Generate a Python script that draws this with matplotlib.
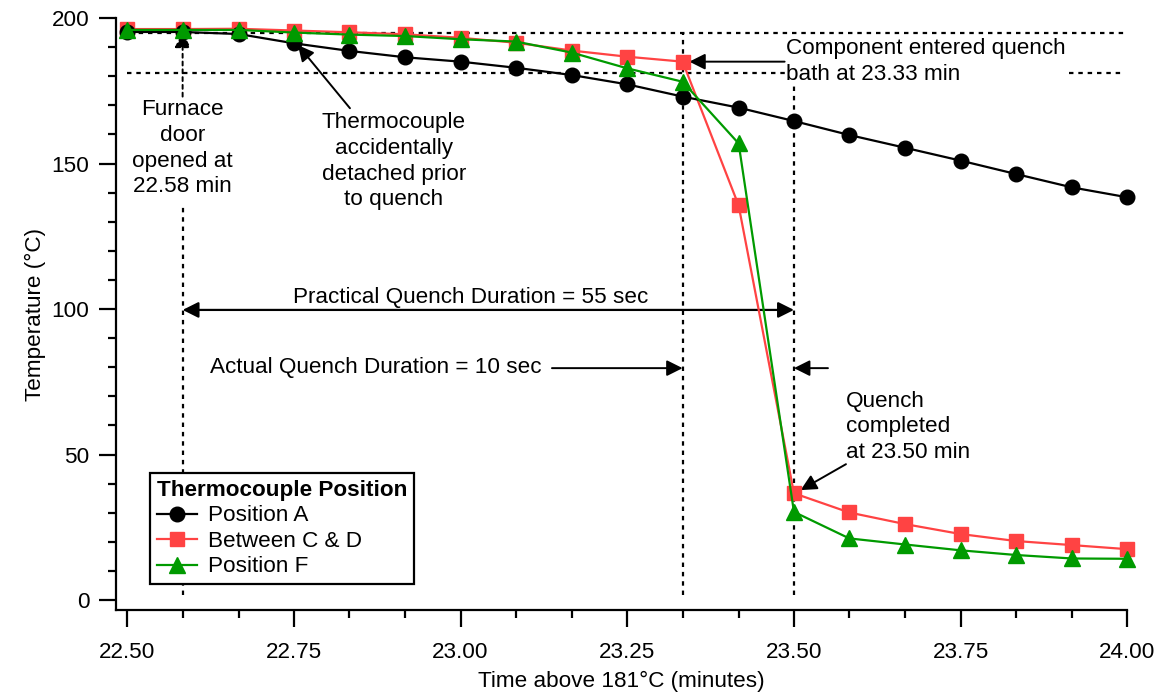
import matplotlib
matplotlib.use("Agg")
import matplotlib.pyplot as plt
from matplotlib.ticker import MultipleLocator, FixedLocator

plt.rcParams['font.family'] = ['Liberation Sans', 'DejaVu Sans']

# Sample times (minutes), one reading every 5 seconds
time_min = [22.500, 22.583, 22.667, 22.750, 22.833, 22.917, 23.000, 23.083,
            23.167, 23.250, 23.333, 23.417, 23.500, 23.583, 23.667, 23.750,
            23.833, 23.917, 24.000]

# Thermocouple readings (deg C)
pos_a = [195.2, 195.2, 194.5, 191.3, 188.7, 186.5, 185.0, 182.9, 180.4, 177.2,
         173.0, 169.2, 164.6, 159.8, 155.4, 151.0, 146.4, 141.8, 138.4]
between_cd = [196.2, 196.2, 196.3, 195.7, 195.1, 194.4, 193.2, 191.5, 188.8, 186.7,
              185.0, 135.6, 36.7, 30.1, 26.1, 22.7, 20.3, 18.9, 17.5]
pos_f = [195.9, 195.9, 195.9, 195.0, 194.3, 193.8, 192.7, 191.9, 188.1, 182.7,
         178.1, 156.9, 30.3, 21.2, 19.1, 17.1, 15.5, 14.3, 14.2]

series_labels = ['Position A', 'Between C & D', 'Position F']
legend_title = 'Thermocouple Position'

# Key event times (minutes) and reference temperatures
t_door = 22.583
t_enter = 23.333
t_done = 23.500
temp_hold = 195.0
temp_threshold = 181.0

x_ticks = [22.50, 22.75, 23.00, 23.25, 23.50, 23.75, 24.00]
x_tick_labels = ['22.50', '22.75', '23.00', '23.25', '23.50', '23.75', '24.00']
y_ticks = [0, 50, 100, 150, 200]

FS = 16.2
LS = 1.3
RED = '#ff4343'
GREEN = '#009a00'

fig = plt.figure(figsize=(11.63, 6.95), dpi=100)
ax = fig.add_axes([0.0997, 0.1223, 0.8696, 0.8518])

ax.plot(time_min, pos_a, color='black', lw=1.6, marker='o', ms=10.5,
        label=series_labels[0], zorder=5, clip_on=False)
ax.plot(time_min, between_cd, color=RED, lw=1.6, marker='s', ms=9.5,
        label=series_labels[1], zorder=4, clip_on=False)
ax.plot(time_min, pos_f, color=GREEN, lw=1.6, marker='^', ms=11,
        label=series_labels[2], zorder=6, clip_on=False)

ax.set_xlim(22.483, 24.0)
ax.set_ylim(-3.4, 200)

dot = dict(color='black', lw=1.6, linestyle=(0, (2, 2.2)), zorder=2)

# Reference temperature lines
ax.plot([22.489, 23.995], [temp_hold, temp_hold], **dot)
ax.plot([22.500, 23.488], [temp_threshold, temp_threshold], **dot)
ax.plot([23.912, 23.995], [temp_threshold, temp_threshold], **dot)

# Event time lines
ax.plot([t_door, t_door], [1.7, 135.5], **dot)
ax.plot([t_enter, t_enter], [1.7, temp_hold], **dot)
ax.plot([t_done, t_done], [1.7, 177.5], **dot)

arrow = dict(arrowstyle='-|>', color='black', lw=1.4, mutation_scale=24,
             shrinkA=0, shrinkB=0)

# Furnace door
ax.text(t_door, 155.3, 'Furnace\ndoor\nopened at\n22.58 min', ha='center', va='center',
        fontsize=FS, linespacing=LS)
ax.annotate('', xy=(t_door, 195.3), xytext=(t_door, 173.0),
            arrowprops=dict(arrow, linestyle=(0, (2, 2))))

# Detached thermocouple
ax.text(22.9, 150.8, 'Thermocouple\naccidentally\ndetached prior\nto quench', ha='center',
        va='center', fontsize=FS, linespacing=LS)
ax.annotate('', xy=(22.756, 190.7), xytext=(22.834, 169.0), arrowprops=arrow)

# Component entered quench bath
ax.text(23.488, 185.0, 'Component entered quench\nbath at 23.33 min', ha='left',
        va='center', fontsize=FS, linespacing=LS)
ax.annotate('', xy=(23.343, 185.0), xytext=(23.486, 185.0), arrowprops=arrow)

# Quench completed
ax.text(23.578, 59.5, 'Quench\ncompleted\nat 23.50 min', ha='left', va='center',
        fontsize=FS, linespacing=LS)
ax.annotate('', xy=(23.51, 37.8), xytext=(23.578, 46.7), arrowprops=arrow)

# Practical quench duration
ax.annotate('', xy=(t_door, 99.7), xytext=(t_done, 99.7),
            arrowprops=dict(arrowstyle='<|-|>', color='black', lw=1.6,
                            mutation_scale=24, shrinkA=0, shrinkB=0))
ax.text(23.015, 104.0, 'Practical Quench Duration = 55 sec', ha='center', va='center',
        fontsize=FS)

# Actual quench duration
ax.text(22.872, 80.0, 'Actual Quench Duration = 10 sec', ha='center', va='center',
        fontsize=FS)
ax.annotate('', xy=(t_enter, 79.7), xytext=(23.137, 79.7), arrowprops=arrow)
ax.annotate('', xy=(t_done, 79.7), xytext=(23.551, 79.7), arrowprops=arrow)

# Axes styling
for side in ('top', 'right'):
    ax.spines[side].set_visible(False)
for side in ('left', 'bottom'):
    ax.spines[side].set_linewidth(1.6)

ax.xaxis.set_major_locator(FixedLocator(x_ticks))
ax.set_xticklabels(x_tick_labels)
ax.xaxis.set_minor_locator(FixedLocator(time_min))
ax.yaxis.set_major_locator(FixedLocator(y_ticks))
ax.yaxis.set_minor_locator(MultipleLocator(10))
ax.tick_params(which='major', direction='out', length=12, width=1.6,
               labelsize=FS, pad=7)
ax.tick_params(which='minor', direction='out', length=6, width=1.6)
ax.tick_params(axis='x', which='major', pad=11)

ax.set_xlabel('Time above 181°C (minutes)', fontsize=FS, labelpad=6)
ax.set_ylabel('Temperature (°C)', fontsize=FS, labelpad=4)

leg = ax.legend(loc='upper left', bbox_to_anchor=(0.0336, 0.231), fontsize=FS,
                title=legend_title, title_fontproperties={'weight': 'bold', 'size': FS},
                alignment='left', frameon=True, fancybox=False, edgecolor='black',
                framealpha=1, handlelength=1.8, handletextpad=0.5,
                labelspacing=0.2, borderpad=0.3, borderaxespad=0)
leg.get_frame().set_linewidth(1.6)
leg.set_zorder(10)

fig.savefig('out.png', dpi=100)
